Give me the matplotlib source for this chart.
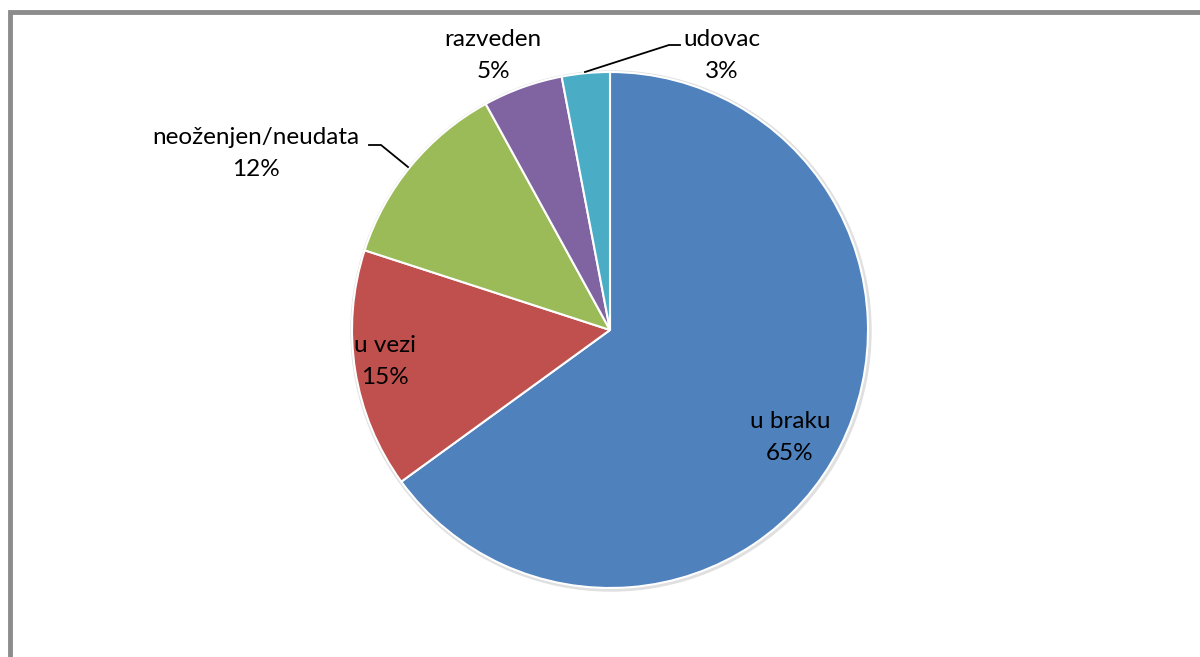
import matplotlib.pyplot as plt
from matplotlib.patches import Rectangle, Circle

labels = ["u braku", "u vezi", "neoženjen/neudata", "razveden", "udovac"]
values = [65, 15, 12, 5, 3]
colors = ["#4F81BD", "#C0504D", "#9BBB59", "#8064A2", "#4BACC6"]

W, H = 1200, 657
fig = plt.figure(figsize=(12, 6.57), dpi=100)
ax = fig.add_axes([0, 0, 1, 1])

# chart frame (right/bottom edges fall outside the picture)
ax.add_patch(Rectangle((9.5, -20), W + 40, H - 11.5 + 20, fill=False,
                       edgecolor="#8c8c8c", linewidth=3.5, zorder=0))

cx, cy, r = 610, H - 330, 258
# soft shadow ring
ax.add_patch(Circle((cx + 1, cy - 1), r + 2, color="#e0e0e0", zorder=1))

ax.pie(values, colors=colors, startangle=90, counterclock=False,
       center=(cx, cy), radius=r, frame=True,
       wedgeprops=dict(edgecolor="white", linewidth=1.5, zorder=2))
ax.set_xlim(0, W)
ax.set_ylim(0, H)
ax.axis("off")

# label positions in pixels (x, y of first line)
label_pos = [(790, 421), (385, 346), (256, 137), (493, 40), (722, 40)]
font = ["Lato", "DejaVu Sans"]
for lab, v, (px, py) in zip(labels, values, label_pos):
    ax.text(px, H - py, lab, ha="center", va="center", fontsize=17.5,
            family=font, color="black", zorder=5)
    ax.text(px, H - py - 32, f"{v}%", ha="center", va="center", fontsize=17.5,
            family=font, color="black", zorder=5)

# leader lines
ax.plot([369, 381, 408], [H - 145, H - 145, H - 167], color="black", lw=1.3, zorder=4)
ax.plot([680, 669, 585], [H - 45, H - 45, H - 72], color="black", lw=1.3, zorder=4)

fig.savefig("out.png", dpi=100, facecolor="white")
